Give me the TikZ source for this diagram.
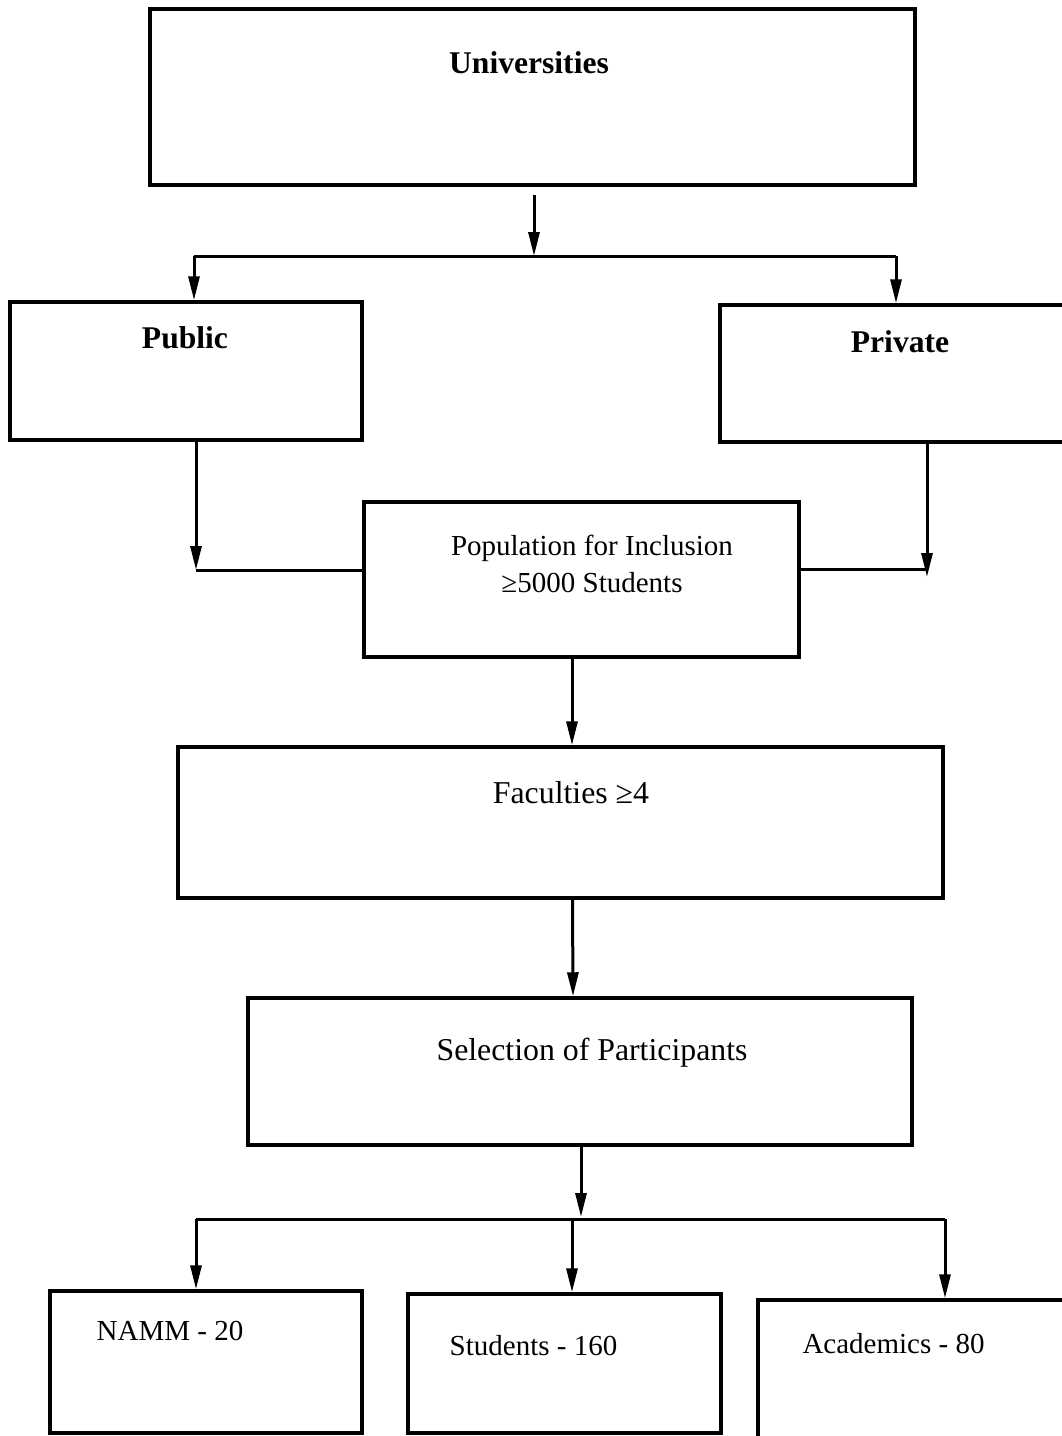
\documentclass[tikz,border=0pt]{standalone}
\usepackage{fontspec}
\setmainfont{Liberation Serif}
\usetikzlibrary{arrows.meta}

\begin{document}
\begin{tikzpicture}[x=1pt,y=-1pt,
  box/.style={draw,rectangle,line width=3.5pt,inner sep=0pt},
  conn/.style={line width=3pt},
  arr/.style={conn,-{Triangle[length=24pt,width=11pt]}},
  head/.style={anchor=base,font=\fontsize{31.6}{36}\selectfont\bfseries},
  txt/.style={anchor=base,font=\fontsize{29}{34}\selectfont},
  bigtxt/.style={anchor=base,font=\fontsize{31.8}{36}\selectfont}]
\useasboundingbox (0,0) rectangle (1061,1436);
%
% cajas
\node[box,minimum width=765pt,minimum height=176pt] (univ) at (532.5,97) {};
\node[box,minimum width=352pt,minimum height=138pt] (pub) at (186,371) {};
\node[box,minimum width=355pt,minimum height=137pt] (priv) at (897.5,373.5) {};
\node[box,minimum width=435pt,minimum height=155pt] (pop) at (581.5,579.5) {};
\node[box,minimum width=765pt,minimum height=151pt] (fac) at (560.5,822.5) {};
\node[box,minimum width=664pt,minimum height=147pt] (sel) at (580,1071.5) {};
\node[box,minimum width=312pt,minimum height=142pt] (namm) at (206,1362) {};
\node[box,minimum width=313pt,minimum height=139pt] (stud) at (564.5,1363.5) {};
\node[box,minimum width=317pt,minimum height=150pt] (acad) at (916.5,1375) {};
%
% textos
\node[head] (univtxt) at (529,73) {Universities};
\node[head] (pubtxt) at (185,348) {Public};
\node[head] (privtxt) at (900,352) {Private};
\node[txt] (poptxt) at (592,555) {Population for Inclusion};
\node[txt] (popmin) at (592,592) {≥5000 Students};
\node[bigtxt] (factxt) at (571,803) {Faculties ≥4};
\node[bigtxt] (seltxt) at (592,1060) {Selection of Participants};
\node[txt] (nammtxt) at (170,1340) {NAMM - 20};
\node[txt] (studtxt) at (533.5,1355) {Students - 160};
\node[txt] (acadtxt) at (893.5,1353) {Academics - 80};
%
% conectores
\coordinate (u0) at (534,195);
\coordinate (sp1) at (534,256);
\coordinate (sp1l) at (194,256);
\coordinate (sp1r) at (896,256);
\draw[arr] (u0) -- (sp1);
\draw[conn] (sp1l) -- (sp1r);
\draw[arr] (sp1l) -- (sp1l |- pub.north);
\draw[arr] (sp1r) -- (sp1r |- priv.north);
%
\coordinate (pubout) at (196,570);
\draw[arr] (pubout |- pub.south) -- (pubout);
\draw[conn] (pubout) -- (pubout -| pop.west);
\coordinate (privout) at (927,577);
\coordinate (privj) at (927,569);
\draw[arr] (privout |- priv.south) -- (privout);
\draw[conn] (privj -| pop.east) -- (privj);
%
\draw[arr] ([xshift=-9.5pt]pop.south) -- ([xshift=-9.5pt]pop.south |- fac.north);
\draw[arr] ([xshift=12pt]fac.south) -- ([xshift=12.5pt]fac.south |- sel.north);
%
\coordinate (sp2) at (581,1217);
\draw[arr] (sel.south -| sp2) -- (sp2);
\foreach \xx/\nm in {196/namm,572/stud,945/acad}{
  \coordinate (d\nm) at (\xx,1219);
  \draw[arr] (d\nm) -- (d\nm |- \nm.north);
}
\draw[conn] (dnamm) -- (dacad);
\end{tikzpicture}
\end{document}
